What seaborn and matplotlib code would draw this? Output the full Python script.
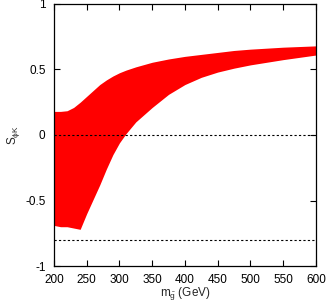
import numpy as np
import pandas as pd
import matplotlib
matplotlib.use("Agg")
import matplotlib.pyplot as plt
import seaborn as sns

# gluino mass (GeV) and band edges of S_phiK
m_gluino = [200, 210, 220, 230, 240, 250, 260, 270, 280, 290, 300, 310,
            325, 350, 375, 400, 425, 450, 475, 500, 550, 600]
s_upper = [0.18, 0.18, 0.185, 0.21, 0.25, 0.295, 0.34, 0.385, 0.42, 0.45, 0.475, 0.495,
           0.52, 0.555, 0.58, 0.60, 0.615, 0.63, 0.645, 0.655, 0.67, 0.68]
s_lower = [-0.69, -0.70, -0.70, -0.71, -0.72, -0.60, -0.49, -0.38, -0.26, -0.15, -0.06, 0.01,
           0.10, 0.21, 0.31, 0.385, 0.44, 0.48, 0.51, 0.535, 0.575, 0.61]
ref_lines = [0.0, -0.8]

xticks = [200, 250, 300, 350, 400, 450, 500, 550, 600]
yticks = [-1, -0.5, 0, 0.5, 1]
yticklabels = ["-1", "-0.5", "0", "0.5", "1"]

sns.set_theme(style="ticks")
plt.rcParams['font.family'] = ['Liberation Sans', 'DejaVu Sans']
plt.rcParams['mathtext.fontset'] = 'custom'
plt.rcParams['mathtext.rm'] = 'Liberation Sans'
plt.rcParams['mathtext.it'] = 'Liberation Sans'

df = pd.DataFrame({'m': m_gluino, 'upper': s_upper, 'lower': s_lower})

fig = plt.figure(figsize=(3.27, 3.03), dpi=100)
ax = fig.add_axes([0.165, 0.122, 0.801, 0.865])

ax.fill_between(df['m'], df['lower'], df['upper'], color='red', linewidth=0)
for y in ref_lines:
    ax.axhline(y, color='black', linestyle=(0, (2, 2)), linewidth=0.8)

ax.set_xlim(200, 600)
ax.set_ylim(-1, 1)
ax.set_xticks(xticks)
ax.set_xticklabels([str(t) for t in xticks])
ax.set_yticks(yticks)
ax.set_yticklabels(yticklabels)
ax.tick_params(direction='in', top=True, right=True, length=4, width=0.8,
               labelsize=8.5, colors='black')
ax.tick_params(axis='x', pad=6)
ax.tick_params(axis='y', pad=6)
for sp in ax.spines.values():
    sp.set_linewidth(0.9)
    sp.set_color('black')

ax.set_xlabel(r'$m_{\tilde{g}}$ (GeV)', fontsize=8.5, labelpad=0)
ax.set_ylabel(r'$S_{\phi K}$', fontsize=8.5, labelpad=2)

fig.savefig('out.png', dpi=100)
